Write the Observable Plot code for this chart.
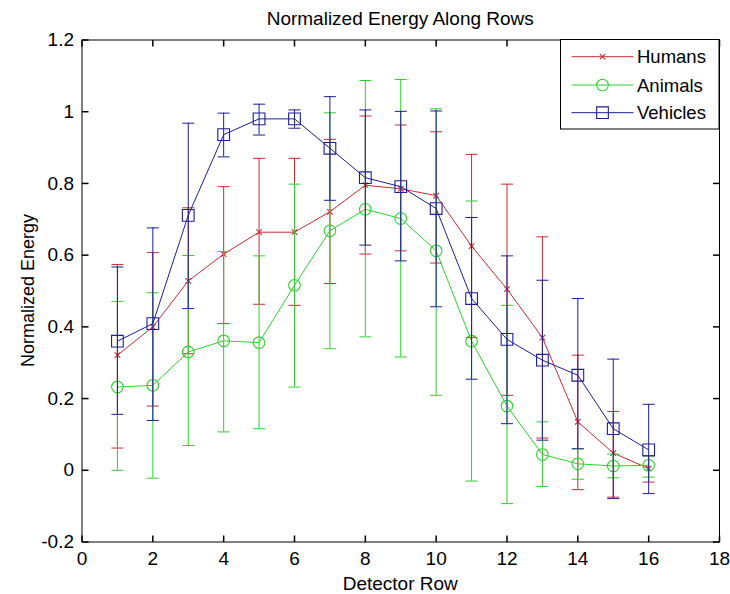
<!DOCTYPE html>
<html><head><meta charset="utf-8">
<script src="https://cdn.jsdelivr.net/npm/d3@7"></script>
<script src="https://cdn.jsdelivr.net/npm/@observablehq/plot@0.6"></script>
<style>html,body{margin:0;padding:0;background:#fff;} svg{display:block}</style>
</head><body><div id="chart"></div>
<script>
const rows = [1,2,3,4,5,6,7,8,9,10,11,12,13,14,15,16];

const humans   = [0.321,0.400,0.528,0.603,0.664,0.664,0.721,0.795,0.785,0.766,0.625,0.505,0.370,0.135,0.048,0.005];
const humansHi = [0.574,0.607,0.732,0.791,0.870,0.870,0.923,0.988,0.963,0.944,0.881,0.798,0.651,0.321,0.164,0.040];
const humansLo = [0.062,0.179,0.325,0.409,0.463,0.460,0.521,0.603,0.612,0.578,0.370,0.209,0.090,-0.054,-0.075,-0.033];

const animals   = [0.232,0.237,0.330,0.361,0.356,0.516,0.668,0.728,0.702,0.612,0.360,0.179,0.044,0.018,0.012,0.014];
const animalsHi = [0.471,0.495,0.599,0.610,0.598,0.798,0.997,1.087,1.090,1.008,0.751,0.460,0.135,0.060,0.045,0.040];
const animalsLo = [0.000,-0.022,0.069,0.107,0.116,0.232,0.339,0.372,0.316,0.209,-0.030,-0.093,-0.045,-0.025,-0.021,-0.019];

const vehicles   = [0.360,0.409,0.711,0.936,0.980,0.980,0.898,0.816,0.791,0.730,0.479,0.365,0.307,0.265,0.116,0.057];
const vehiclesHi = [0.567,0.676,0.968,0.996,1.021,1.005,1.042,1.005,1.001,1.002,0.705,0.598,0.530,0.479,0.310,0.184];
const vehiclesLo = [0.156,0.139,0.451,0.874,0.935,0.954,0.753,0.628,0.584,0.456,0.254,0.130,0.084,0.060,-0.079,-0.065];

const xTicks = [0,2,4,6,8,10,12,14,16,18];
const yTicks = [-0.2,0,0.2,0.4,0.6,0.8,1,1.2];

const seriesNames   = ["Humans","Animals","Vehicles"];
const seriesColors  = ["#cc2a33","#2ecf2e","#1e1e96"];
const seriesSymbols = ["times","circle","square"];
const seriesR       = [2.6,5.8,6.6];

const titleText = "Normalized Energy Along Rows";
const xLabel = "Detector Row";
const yLabel = "Normalized Energy";

const W = 730, H = 594, mL = 81.5, mR = 11, mT = 39.5, mB = 52.5;
const FONT = "'Liberation Sans', Arial, Helvetica, sans-serif";
const tickLen = 6.5;
const tickSym = (dx, dy) => ({draw(c){ c.moveTo(0,0); c.lineTo(dx*tickLen, dy*tickLen); }});
const capSym = {draw(c){ c.moveTo(-6,0); c.lineTo(6,0); }};
const fmt = d => String(Math.round(d*10)/10);

function seriesMarks(vals, lo, hi, color, symbol, r) {
  const data = rows.map((x,i) => ({x, v: vals[i], lo: lo[i], hi: hi[i]}));
  return [
    Plot.ruleX(data, {x: "x", y1: "lo", y2: "hi", stroke: color, strokeWidth: 1}),
    Plot.dot(data, {x: "x", y: "lo", symbol: capSym, r: 1, stroke: color, fill: "none", strokeWidth: 1}),
    Plot.dot(data, {x: "x", y: "hi", symbol: capSym, r: 1, stroke: color, fill: "none", strokeWidth: 1}),
    Plot.line(data, {x: "x", y: "v", stroke: color, strokeWidth: 1}),
    Plot.dot(data, {x: "x", y: "v", symbol, r, stroke: color, fill: "none", strokeWidth: 1.1})
  ];
}

const allSeries = [
  [humans, humansLo, humansHi],
  [animals, animalsLo, animalsHi],
  [vehicles, vehiclesLo, vehiclesHi]
];

const svg = Plot.plot({
  width: W, height: H,
  marginLeft: mL, marginRight: mR, marginTop: mT, marginBottom: mB,
  style: {fontFamily: FONT, fontSize: "19px", background: "#fff", color: "#000"},
  x: {domain: [0, 18]},
  y: {domain: [-0.2, 1.2]},
  marks: [
    ...allSeries.flatMap((s, k) => seriesMarks(s[0], s[1], s[2], seriesColors[k], seriesSymbols[k], seriesR[k])),
    Plot.frame({stroke: "#000", strokeWidth: 1}),
    Plot.dot(xTicks, {x: d => d, frameAnchor: "bottom", symbol: tickSym(0,-1), r: 1, stroke: "#000", fill: "none"}),
    Plot.dot(xTicks, {x: d => d, frameAnchor: "top", symbol: tickSym(0,1), r: 1, stroke: "#000", fill: "none"}),
    Plot.dot(yTicks, {y: d => d, frameAnchor: "left", symbol: tickSym(1,0), r: 1, stroke: "#000", fill: "none"}),
    Plot.dot(yTicks, {y: d => d, frameAnchor: "right", symbol: tickSym(-1,0), r: 1, stroke: "#000", fill: "none"}),
    Plot.axisX({ticks: xTicks, anchor: "bottom", tickSize: 0, tickPadding: 9.5, label: null, tickFormat: fmt, fontSize: 19, fill: "#000"}),
    Plot.axisY({ticks: yTicks, anchor: "left", tickSize: 0, tickPadding: 8, label: null, tickFormat: fmt, fontSize: 19, fill: "#000"})
  ]
});

const s = d3.select(svg);
const fx0 = mL, fx1 = W - mR, fy0 = mT, fy1 = H - mB;
const cx = (fx0 + fx1) / 2, cy = (fy0 + fy1) / 2;

s.append("text").attr("x", cx).attr("y", 25).attr("text-anchor", "middle")
  .attr("font-size", 19).attr("fill", "#000").text(titleText);
s.append("text").attr("x", cx).attr("y", 590).attr("text-anchor", "middle")
  .attr("font-size", 19).attr("fill", "#000").text(xLabel);
s.append("text").attr("transform", `translate(33.5,${cy}) rotate(-90)`).attr("text-anchor", "middle")
  .attr("font-size", 18).attr("fill", "#000").text(yLabel);

// legend inside top-right of the axes
const lg = s.append("g");
const lx0 = 560.5, lx1 = fx1, ly0 = fy0, ly1 = 129;
lg.append("rect").attr("x", lx0).attr("y", ly0).attr("width", lx1 - lx0).attr("height", ly1 - ly0)
  .attr("fill", "#fff").attr("stroke", "#000").attr("stroke-width", 1);
const rowY = [56.7, 85, 112.7];
const symMap = {times: d3.symbolTimes, circle: d3.symbolCircle, square: d3.symbolSquare};
seriesNames.forEach((name, k) => {
  const y = rowY[k];
  lg.append("line").attr("x1", 571.5).attr("x2", 633.5).attr("y1", y).attr("y2", y)
    .attr("stroke", seriesColors[k]).attr("stroke-width", 1);
  if (seriesSymbols[k] === "circle") {
    lg.append("circle").attr("cx", 602.5).attr("cy", y).attr("r", seriesR[k])
      .attr("fill", "none").attr("stroke", seriesColors[k]).attr("stroke-width", 1.1);
  } else {
    lg.append("path").attr("transform", `translate(602.5,${y})`)
      .attr("d", d3.symbol(symMap[seriesSymbols[k]], Math.PI * seriesR[k] * seriesR[k])())
      .attr("fill", "none").attr("stroke", seriesColors[k]).attr("stroke-width", 1.1);
  }
  lg.append("text").attr("x", 637).attr("y", y).attr("dy", "0.36em").attr("text-anchor", "start")
    .attr("font-size", 18.5).attr("fill", "#000").text(name);
});

document.getElementById("chart").appendChild(svg);
</script>
</body></html>
